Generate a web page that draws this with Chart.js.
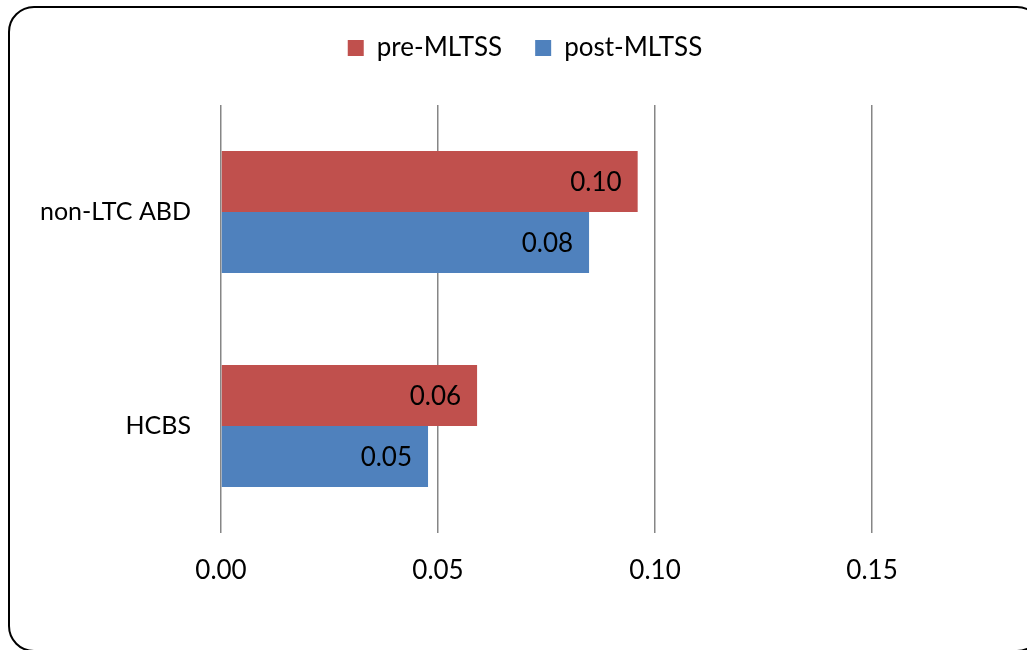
<!DOCTYPE html>
<html>
<head>
<meta charset="utf-8">
<script src="https://cdn.jsdelivr.net/npm/chart.js@4.4.0/dist/chart.umd.min.js"></script>
<style>
  html, body { margin: 0; padding: 0; background: #fff; overflow: hidden; }
  #wrap { width: 1027px; height: 650px; overflow: hidden; position: relative; }
  #c { display: block; }
</style>
</head>
<body>
<div id="wrap"><canvas id="c" width="1060" height="650"></canvas></div>
<script>
const categories = ['non-LTC ABD', 'HCBS'];
const seriesNames = ['pre-MLTSS', 'post-MLTSS'];
const preValues = [0.096, 0.059];
const postValues = [0.0848, 0.0477];
const xTickValues = [0, 0.05, 0.10, 0.15];

const FONT = 'Lato, "Open Sans", sans-serif';

const borderPlugin = {
  id: 'roundBorder',
  beforeDraw(chart) {
    const ctx = chart.ctx;
    const x = 9, y = 7, w = 1033, h = 644, r = 25;
    ctx.save();
    ctx.fillStyle = '#fff';
    ctx.fillRect(0, 0, chart.width, chart.height);
    ctx.beginPath();
    ctx.moveTo(x + r, y);
    ctx.lineTo(x + w - r, y);
    ctx.arcTo(x + w, y, x + w, y + r, r);
    ctx.lineTo(x + w, y + h - r);
    ctx.arcTo(x + w, y + h, x + w - r, y + h, r);
    ctx.lineTo(x + r, y + h);
    ctx.arcTo(x, y + h, x, y + h - r, r);
    ctx.lineTo(x, y + r);
    ctx.arcTo(x, y, x + r, y, r);
    ctx.closePath();
    ctx.lineWidth = 2;
    ctx.strokeStyle = '#000';
    ctx.stroke();
    ctx.restore();
  }
};

const valueLabels = {
  id: 'valueLabels',
  afterDatasetsDraw(chart) {
    const ctx = chart.ctx;
    ctx.save();
    ctx.font = '26px ' + FONT;
    ctx.fillStyle = '#000';
    ctx.textAlign = 'right';
    ctx.textBaseline = 'middle';
    chart.data.datasets.forEach((ds, di) => {
      const meta = chart.getDatasetMeta(di);
      meta.data.forEach((bar, i) => {
        ctx.fillText(ds.data[i].toFixed(2), bar.x - 16, bar.y + 1);
      });
    });
    ctx.restore();
  }
};

function noSidePadding(scale) {
  scale.paddingLeft = 0;
  scale.paddingRight = 0;
}

new Chart(document.getElementById('c'), {
  type: 'bar',
  data: {
    labels: categories,
    datasets: [
      { label: seriesNames[0], data: preValues, backgroundColor: '#C0504D', borderWidth: 0 },
      { label: seriesNames[1], data: postValues, backgroundColor: '#4F81BD', borderWidth: 0 }
    ]
  },
  options: {
    indexAxis: 'y',
    responsive: false,
    animation: false,
    devicePixelRatio: 1,
    layout: { padding: { top: 2, right: 10, bottom: 0, left: 0 } },
    datasets: { bar: { barPercentage: 1.0, categoryPercentage: 0.569 } },
    plugins: {
      legend: {
        position: 'top',
        labels: {
          color: '#000',
          font: { family: FONT, size: 26 },
          boxWidth: 16,
          boxHeight: 16,
          padding: 33
        }
      },
      tooltip: { enabled: false }
    },
    scales: {
      x: {
        type: 'linear',
        min: 0,
        max: 0.191,
        afterBuildTicks(scale) {
          scale.ticks = xTickValues.map(v => ({ value: v })).concat([{ value: 0.191 }]);
        },
        afterFit(scale) { scale.height = 117; noSidePadding(scale); },
        grid: { color: '#868686', lineWidth: 1.5, drawTicks: false },
        border: { display: false },
        ticks: {
          color: '#000',
          font: { family: FONT, size: 26 },
          padding: 22,
          maxRotation: 0,
          autoSkip: false,
          callback: (v) => (v > 0.16 ? '' : Number(v).toFixed(2))
        }
      },
      xSpacer: {
        type: 'linear',
        position: 'top',
        display: true,
        grid: { display: false, drawTicks: false },
        border: { display: false },
        ticks: { display: false },
        afterFit(scale) { scale.height = 34; noSidePadding(scale); }
      },
      y: {
        grid: { display: false, drawTicks: false },
        border: { display: false },
        afterFit(scale) { scale.width = 221; },
        ticks: {
          color: '#000',
          font: { family: FONT, size: 25 },
          padding: 30
        }
      }
    }
  },
  plugins: [borderPlugin, valueLabels]
});
</script>
</body>
</html>
